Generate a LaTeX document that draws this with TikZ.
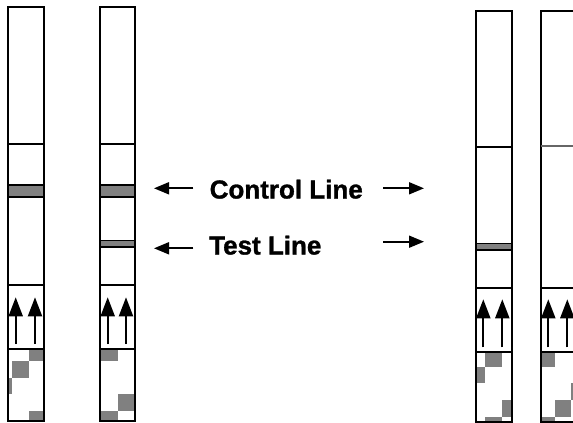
\documentclass[tikz,border=0pt]{standalone}
\usepackage{fontspec}
\setmainfont{Liberation Sans}
\newfontfamily\lblfont{Liberation Sans Bold}[FakeBold=1.2]
\usetikzlibrary{arrows.meta}
\definecolor{bandgray}{RGB}{128,128,128}
\tikzset{
  stripline/.style={line width=2pt, draw=black},
  band/.style={fill=bandgray, draw=black, line width=1.5pt},
  sq/.style={fill=bandgray, draw=none},
  flowarrow/.style={line width=2pt, -{Triangle[length=19pt,width=14pt]}},
  sidearrow/.style={line width=1.8pt, -{Triangle[length=15pt,width=12pt]}},
  lbl/.style={anchor=base west, inner sep=0pt, font=\lblfont\fontsize{26}{30}\selectfont}
}
\begin{document}
\begin{tikzpicture}[x=1pt,y=-1pt]
\useasboundingbox (0,0) rectangle (573,423);
\fill[white] (0,0) rectangle (573,423);

% ---------- Strip 1 ----------
\begin{scope}
\clip (8.3,349) rectangle (44,420.7);
\fill[sq] (29.3,349) rectangle (44,360.7);
\fill[sq] (12.3,360.7) rectangle (29.3,377.7);
\fill[sq] (8.3,377.7) rectangle (12.3,394);
\fill[sq] (29.3,410.7) rectangle (44,420.7);
\end{scope}
\draw[band] (8.3,185) rectangle (44,197);
\draw[stripline] (8.3,7.3) rectangle (44,420.7);
\draw[stripline] (8.3,144) -- (44,144);
\draw[stripline] (8.3,285) -- (44,285);
\draw[stripline] (8.3,349) -- (44,349);
\coordinate (s1a0) at (15.7,344); \coordinate (s1a1) at (15.7,297.3);
\coordinate (s1b0) at (35,344);   \coordinate (s1b1) at (35,297.3);
\draw[flowarrow] (s1a0) -- (s1a1);
\draw[flowarrow] (s1b0) -- (s1b1);

% ---------- Strip 2 ----------
\begin{scope}
\clip (100,349) rectangle (135,420.7);
\fill[sq] (100,349) rectangle (117.7,360.7);
\fill[sq] (117.7,394) rectangle (135,410.7);
\fill[sq] (100,410.7) rectangle (117.7,420.7);
\end{scope}
\draw[band] (100,185) rectangle (135,197);
\draw[band] (100,240.7) rectangle (135,247);
\draw[stripline] (100,7.3) rectangle (135,420.7);
\draw[stripline] (100,144) -- (135,144);
\draw[stripline] (100,285) -- (135,285);
\draw[stripline] (100,349) -- (135,349);
\coordinate (s2a0) at (107.7,344); \coordinate (s2a1) at (107.7,297.3);
\coordinate (s2b0) at (126,344);   \coordinate (s2b1) at (126,297.3);
\draw[flowarrow] (s2a0) -- (s2a1);
\draw[flowarrow] (s2b0) -- (s2b1);

% ---------- Strip 3 ----------
\begin{scope}
\clip (475.7,352) rectangle (511.7,422);
\fill[sq] (485,352) rectangle (501.7,366.7);
\fill[sq] (475.7,366.7) rectangle (485,382.7);
\fill[sq] (501.7,400) rectangle (511.7,416.7);
\fill[sq] (485,416.7) rectangle (501.7,422);
\end{scope}
\draw[band] (475.7,243.7) rectangle (511.7,250);
\draw[stripline] (475.7,11) rectangle (511.7,422);
\draw[stripline] (475.7,146.7) -- (511.7,146.7);
\draw[stripline] (475.7,287.7) -- (511.7,287.7);
\draw[stripline] (475.7,352) -- (511.7,352);
\coordinate (s3a0) at (483.3,347.3); \coordinate (s3a1) at (483.3,299.3);
\coordinate (s3b0) at (502.3,347.3); \coordinate (s3b1) at (502.3,299.3);
\draw[flowarrow] (s3a0) -- (s3a1);
\draw[flowarrow] (s3b0) -- (s3b1);

% ---------- Strip 4 ----------
\begin{scope}
\clip (540.7,352) rectangle (590,422);
\fill[sq] (540.7,352) rectangle (555,366.7);
\fill[sq] (571,382.7) rectangle (590,400);
\fill[sq] (555,400) rectangle (571,416.7);
\fill[sq] (540.7,416.7) rectangle (555,422);
\end{scope}
\draw[stripline] (590,11) -- (540.7,11) -- (540.7,422) -- (590,422);
\draw[line width=1.5pt, draw=black!60] (540.7,146) -- (590,146);
\draw[stripline] (540.7,287.7) -- (590,287.7);
\draw[stripline] (540.7,352) -- (590,352);
\coordinate (s4a0) at (548.3,347.3); \coordinate (s4a1) at (548.3,299.3);
\coordinate (s4b0) at (567.3,347.3); \coordinate (s4b1) at (567.3,299.3);
\draw[flowarrow] (s4a0) -- (s4a1);
\draw[flowarrow] (s4b0) -- (s4b1);

% ---------- Labels ----------
\node[lbl] (ctrl) at (209.5,198.5) {Control Line};
\node[lbl] (test) at (209,254.5) {Test Line};

\coordinate (cl0) at (193.3,188.3); \coordinate (cl1) at (154,188.3);
\coordinate (cr0) at (383.3,188.3); \coordinate (cr1) at (424,188.3);
\coordinate (tl0) at (193.3,248.3); \coordinate (tl1) at (154,248.3);
\coordinate (tr0) at (383.3,241.7); \coordinate (tr1) at (424,241.7);
\draw[sidearrow] (cl0) -- (cl1);
\draw[sidearrow] (cr0) -- (cr1);
\draw[sidearrow] (tl0) -- (tl1);
\draw[sidearrow] (tr0) -- (tr1);
\end{tikzpicture}
\end{document}
